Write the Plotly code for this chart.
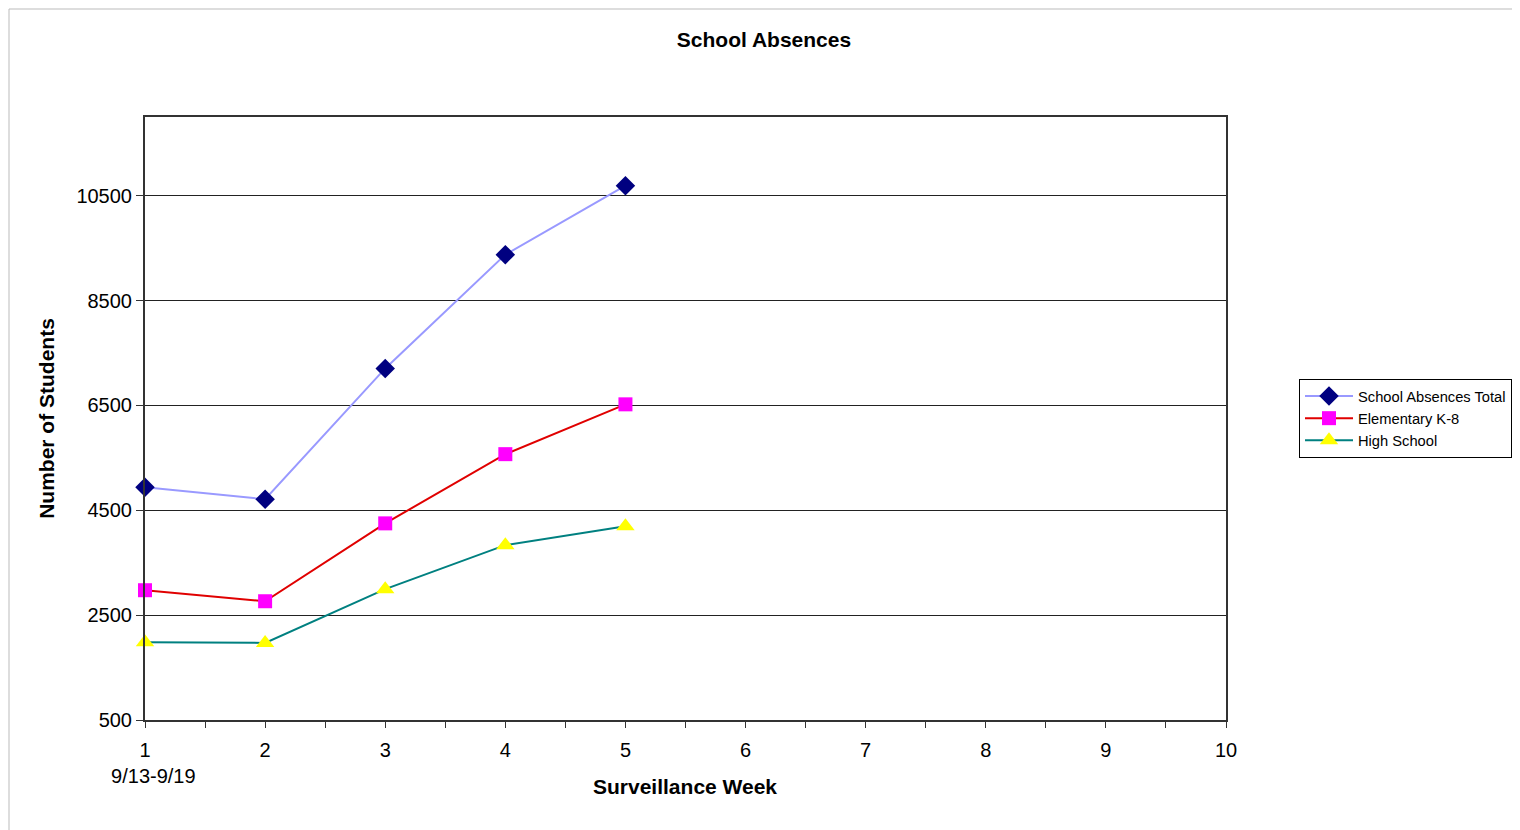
import plotly.graph_objects as go

weeks = [1, 2, 3, 4, 5]
total = [4940, 4710, 7205, 9375, 10690]
elementary = [2975, 2765, 4250, 5570, 6520]
high_school = [1985, 1970, 2995, 3835, 4195]

x_tickvals = [1, 2, 3, 4, 5, 6, 7, 8, 9, 10]
x_ticktext = ["1<br>\u00a0\u00a0\u00a09/13-9/19", "2", "3", "4", "5", "6", "7", "8", "9", "10"]
y_tickvals = [500, 2500, 4500, 6500, 8500, 10500]
y_ticktext = ["500", "2500", "4500", "6500", "8500", "10500"]

FONT = "Liberation Sans, Arial, sans-serif"

# page offset of ~8px is applied by the browser; plot area target 145..1226 x 117..720
OFF = 8
L, R, T, B = 145 - OFF, 1226 - OFF, 117 - OFF, 720 - OFF
PW, PH = R - L, B - T

fig = go.Figure()
fig.add_trace(go.Scatter(
    x=weeks, y=total, name="School Absences Total", mode="lines+markers",
    line=dict(color="#9999FF", width=2),
    marker=dict(symbol="diamond", size=15, color="#000080"),
    cliponaxis=False))
fig.add_trace(go.Scatter(
    x=weeks, y=elementary, name="Elementary K-8", mode="lines+markers",
    line=dict(color="#E00000", width=2),
    marker=dict(symbol="square", size=14, color="#FF00FF"),
    cliponaxis=False))
fig.add_trace(go.Scatter(
    x=weeks, y=high_school, name="High School", mode="lines+markers",
    line=dict(color="#008080", width=2),
    marker=dict(symbol="triangle-up", size=16, color="#FFFF00"),
    cliponaxis=False))

fig.update_layout(
    width=1520, height=830,
    margin=dict(l=L, r=1520 - R, t=T, b=830 - B),
    paper_bgcolor="white", plot_bgcolor="white",
    font=dict(family=FONT, size=20, color="black"),
    title=dict(text="<b>School Absences</b>", x=(764 - OFF) / 1520, xanchor="center",
               y=1 - (40 - OFF) / 830, yanchor="middle", font=dict(size=21, family=FONT)),
    showlegend=True,
    legend=dict(x=(1299 - 145) / PW, y=(720 - 379) / PH, xanchor="left", yanchor="top",
                bgcolor="white", bordercolor="black", borderwidth=1,
                font=dict(size=14.7, family=FONT), itemwidth=48),
    shapes=[dict(type="rect", xref="paper", yref="paper",
                 x0=(1 - L) / PW, x1=1.4, y0=-0.4, y1=(B - 1) / PH,
                 line=dict(color="#BBBBBB", width=1), layer="below")],
    annotations=[dict(text="<b>Surveillance Week</b>", xref="paper", yref="paper",
                      x=(685 - 145) / PW, y=(B - (786 - OFF)) / PH,
                      xanchor="center", yanchor="middle", showarrow=False,
                      font=dict(size=21, family=FONT))],
)
fig.update_xaxes(
    range=[1, 10], tickvals=x_tickvals, ticktext=x_ticktext,
    showgrid=False, zeroline=False,
    showline=True, linecolor="#333333", linewidth=2, mirror=True,
    ticks="outside", ticklen=6, tickcolor="#333333", ticklabelstandoff=5,
    minor=dict(dtick=0.5, tick0=1, ticks="outside", ticklen=6, tickcolor="#333333", showgrid=False),
    tickfont=dict(size=20, family=FONT),
)
fig.update_yaxes(
    range=[500, 12000], tickvals=y_tickvals, ticktext=y_ticktext,
    showgrid=True, gridcolor="#222222", gridwidth=1, zeroline=False,
    showline=True, linecolor="#333333", linewidth=2, mirror=True,
    ticks="outside", ticklen=7, tickcolor="#333333",
    tickfont=dict(size=20, family=FONT),
    title=dict(text="<b>Number of Students</b>", font=dict(size=21, family=FONT), standoff=16),
)

fig.write_html("out.html")
